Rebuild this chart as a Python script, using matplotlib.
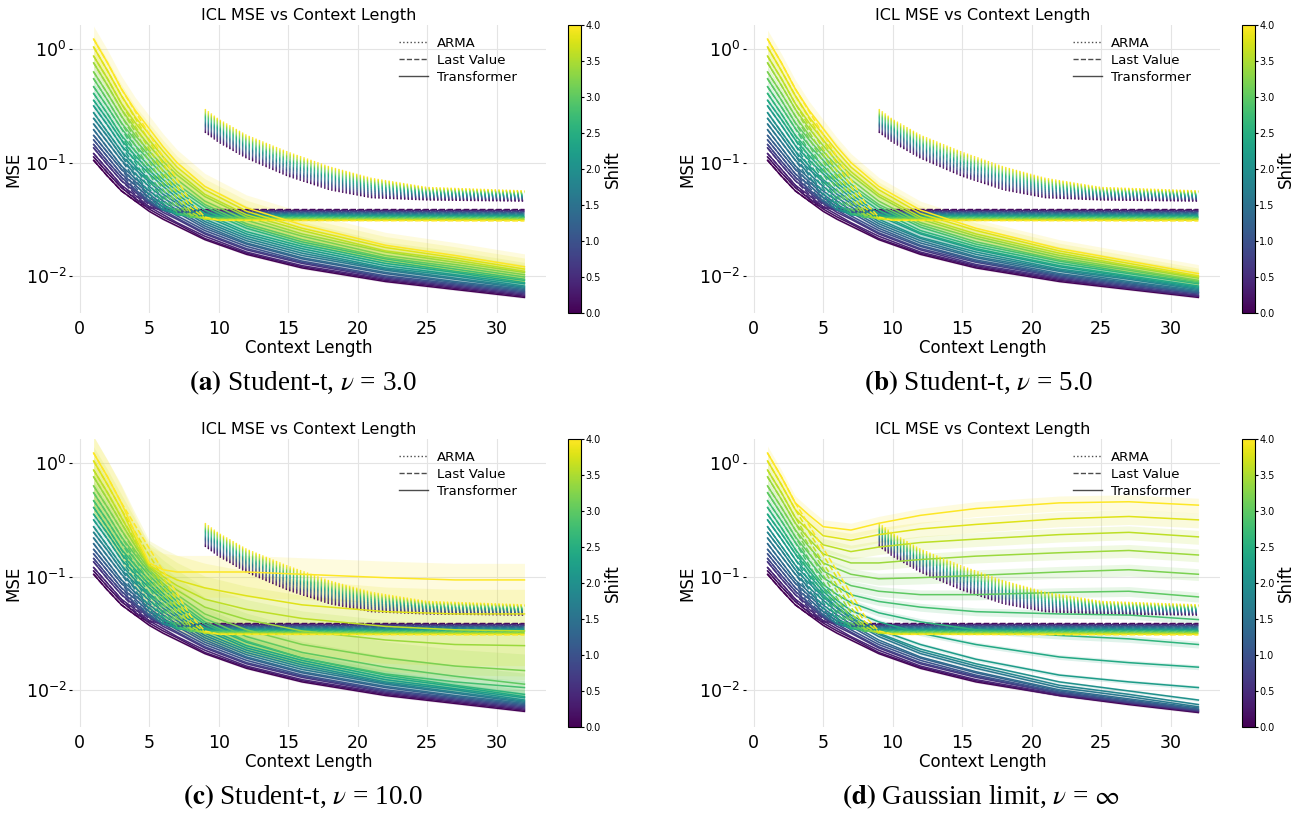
import numpy as np
import matplotlib
matplotlib.use("Agg")
import matplotlib.pyplot as plt
from matplotlib.lines import Line2D
from matplotlib.colors import Normalize
from matplotlib.cm import ScalarMappable

# shift values (colour scale) and context lengths at which curves were read
SHIFTS = [0.0, 0.2, 0.4, 0.6, 0.8, 1.0, 1.2, 1.4, 1.6, 1.8, 2.0,
          2.2, 2.4, 2.6, 2.8, 3.0, 3.2, 3.4, 3.6, 3.8, 4.0]
CTX_T = [1, 2, 3, 4, 5, 6, 7, 9, 12, 16, 22, 27, 32]
CTX_LV = [1, 2, 3, 4, 5, 6, 7, 8, 9, 10, 32]
CTX_ARMA = [9, 10, 12, 15, 18, 21, 25, 32]

# all curves stored as log10(MSE), one row per shift
LV_LOG = [
    [-0.98, -1.12, -1.25, -1.34, -1.40, -1.41, -1.415, -1.415, -1.415, -1.415, -1.415],
    [-0.95, -1.09, -1.22, -1.32, -1.39, -1.415, -1.42, -1.42, -1.42, -1.42, -1.42],
    [-0.92, -1.06, -1.20, -1.31, -1.39, -1.42, -1.425, -1.425, -1.425, -1.425, -1.425],
    [-0.87, -1.02, -1.16, -1.28, -1.37, -1.42, -1.43, -1.43, -1.43, -1.43, -1.43],
    [-0.84, -0.99, -1.13, -1.26, -1.36, -1.42, -1.435, -1.435, -1.435, -1.435, -1.435],
    [-0.80, -0.95, -1.10, -1.24, -1.35, -1.42, -1.44, -1.44, -1.44, -1.44, -1.44],
    [-0.76, -0.91, -1.06, -1.22, -1.34, -1.42, -1.445, -1.445, -1.445, -1.445, -1.445],
    [-0.71, -0.87, -1.03, -1.19, -1.33, -1.42, -1.45, -1.45, -1.45, -1.45, -1.45],
    [-0.66, -0.82, -0.98, -1.15, -1.31, -1.42, -1.455, -1.455, -1.455, -1.455, -1.455],
    [-0.61, -0.77, -0.94, -1.12, -1.29, -1.41, -1.46, -1.46, -1.46, -1.46, -1.46],
    [-0.56, -0.73, -0.90, -1.09, -1.27, -1.40, -1.46, -1.465, -1.465, -1.465, -1.465],
    [-0.50, -0.67, -0.85, -1.04, -1.23, -1.38, -1.46, -1.47, -1.47, -1.47, -1.47],
    [-0.45, -0.62, -0.80, -1.00, -1.19, -1.36, -1.46, -1.475, -1.475, -1.475, -1.475],
    [-0.39, -0.57, -0.76, -0.96, -1.15, -1.33, -1.45, -1.48, -1.48, -1.48, -1.48],
    [-0.33, -0.51, -0.70, -0.90, -1.10, -1.29, -1.44, -1.485, -1.485, -1.485, -1.485],
    [-0.26, -0.45, -0.65, -0.85, -1.05, -1.24, -1.41, -1.48, -1.49, -1.49, -1.49],
    [-0.20, -0.39, -0.59, -0.79, -0.99, -1.19, -1.37, -1.47, -1.495, -1.495, -1.495],
    [-0.12, -0.32, -0.53, -0.73, -0.93, -1.13, -1.32, -1.46, -1.50, -1.50, -1.50],
    [-0.06, -0.26, -0.48, -0.68, -0.88, -1.08, -1.27, -1.44, -1.50, -1.505, -1.505],
    [0.02, -0.19, -0.41, -0.61, -0.81, -1.01, -1.21, -1.40, -1.49, -1.51, -1.51],
    [0.09, -0.12, -0.35, -0.55, -0.75, -0.95, -1.15, -1.35, -1.48, -1.51, -1.515],
]

ARMA_LOG = [
    [-0.730, -0.820, -0.960, -1.120, -1.240, -1.310, -1.330, -1.340],
    [-0.720, -0.810, -0.950, -1.110, -1.230, -1.302, -1.325, -1.336],
    [-0.710, -0.800, -0.940, -1.099, -1.220, -1.293, -1.319, -1.331],
    [-0.700, -0.790, -0.930, -1.089, -1.210, -1.285, -1.314, -1.327],
    [-0.690, -0.780, -0.920, -1.078, -1.200, -1.276, -1.308, -1.322],
    [-0.680, -0.770, -0.910, -1.068, -1.190, -1.268, -1.303, -1.318],
    [-0.670, -0.760, -0.900, -1.057, -1.180, -1.259, -1.297, -1.313],
    [-0.660, -0.750, -0.890, -1.047, -1.170, -1.251, -1.292, -1.309],
    [-0.650, -0.740, -0.880, -1.036, -1.160, -1.242, -1.286, -1.304],
    [-0.640, -0.730, -0.870, -1.026, -1.150, -1.234, -1.281, -1.300],
    [-0.630, -0.720, -0.860, -1.015, -1.140, -1.225, -1.275, -1.295],
    [-0.620, -0.710, -0.850, -1.005, -1.130, -1.217, -1.270, -1.291],
    [-0.610, -0.700, -0.840, -0.994, -1.120, -1.208, -1.264, -1.286],
    [-0.600, -0.690, -0.830, -0.984, -1.110, -1.200, -1.259, -1.282],
    [-0.590, -0.680, -0.820, -0.973, -1.100, -1.191, -1.253, -1.277],
    [-0.580, -0.670, -0.810, -0.963, -1.090, -1.183, -1.248, -1.273],
    [-0.570, -0.660, -0.800, -0.952, -1.080, -1.174, -1.242, -1.268],
    [-0.560, -0.650, -0.790, -0.942, -1.070, -1.166, -1.237, -1.264],
    [-0.550, -0.640, -0.780, -0.931, -1.060, -1.157, -1.231, -1.259],
    [-0.540, -0.630, -0.770, -0.921, -1.050, -1.149, -1.226, -1.255],
    [-0.530, -0.620, -0.760, -0.910, -1.040, -1.140, -1.220, -1.250],
]

TF_A = [
    [-0.98, -1.12, -1.25, -1.34, -1.43, -1.50, -1.56, -1.68, -1.81, -1.93, -2.05, -2.12, -2.19],
    [-0.95, -1.09, -1.22, -1.32, -1.41, -1.48, -1.54, -1.67, -1.80, -1.92, -2.04, -2.11, -2.18],
    [-0.92, -1.06, -1.20, -1.29, -1.39, -1.46, -1.53, -1.65, -1.79, -1.91, -2.03, -2.10, -2.17],
    [-0.87, -1.02, -1.16, -1.26, -1.36, -1.44, -1.50, -1.63, -1.77, -1.89, -2.02, -2.09, -2.16],
    [-0.84, -0.99, -1.13, -1.24, -1.34, -1.42, -1.49, -1.62, -1.76, -1.88, -2.01, -2.08, -2.15],
    [-0.80, -0.95, -1.10, -1.20, -1.31, -1.39, -1.47, -1.60, -1.74, -1.87, -2.00, -2.07, -2.14],
    [-0.76, -0.91, -1.06, -1.17, -1.28, -1.37, -1.44, -1.58, -1.72, -1.85, -1.98, -2.06, -2.13],
    [-0.71, -0.87, -1.03, -1.14, -1.25, -1.34, -1.42, -1.56, -1.71, -1.84, -1.97, -2.05, -2.12],
    [-0.66, -0.82, -0.98, -1.10, -1.21, -1.31, -1.39, -1.54, -1.69, -1.82, -1.95, -2.03, -2.11],
    [-0.61, -0.77, -0.94, -1.06, -1.17, -1.28, -1.36, -1.52, -1.67, -1.80, -1.94, -2.02, -2.10],
    [-0.56, -0.73, -0.90, -1.03, -1.15, -1.25, -1.34, -1.50, -1.65, -1.78, -1.93, -2.00, -2.09],
    [-0.50, -0.67, -0.85, -0.98, -1.10, -1.21, -1.31, -1.47, -1.63, -1.76, -1.91, -1.99, -2.07],
    [-0.45, -0.62, -0.80, -0.94, -1.07, -1.18, -1.28, -1.45, -1.61, -1.74, -1.89, -1.97, -2.06],
    [-0.39, -0.57, -0.76, -0.90, -1.03, -1.15, -1.25, -1.42, -1.58, -1.72, -1.87, -1.96, -2.04],
    [-0.33, -0.51, -0.70, -0.85, -0.98, -1.11, -1.22, -1.39, -1.56, -1.70, -1.85, -1.94, -2.03],
    [-0.26, -0.45, -0.65, -0.80, -0.94, -1.07, -1.19, -1.37, -1.54, -1.68, -1.84, -1.92, -2.01],
    [-0.20, -0.39, -0.59, -0.76, -0.90, -1.03, -1.15, -1.34, -1.51, -1.65, -1.82, -1.90, -1.99],
    [-0.12, -0.32, -0.53, -0.70, -0.85, -0.99, -1.11, -1.30, -1.48, -1.63, -1.79, -1.88, -1.97],
    [-0.06, -0.26, -0.48, -0.65, -0.80, -0.95, -1.08, -1.28, -1.46, -1.60, -1.78, -1.86, -1.96],
    [0.02, -0.19, -0.41, -0.60, -0.75, -0.90, -1.04, -1.24, -1.43, -1.58, -1.75, -1.84, -1.94],
    [0.09, -0.12, -0.35, -0.54, -0.70, -0.86, -1.00, -1.21, -1.40, -1.55, -1.73, -1.82, -1.92],
]

TF_B = [
    [-0.98, -1.12, -1.25, -1.34, -1.43, -1.50, -1.56, -1.68, -1.81, -1.93, -2.05, -2.12, -2.19],
    [-0.95, -1.09, -1.22, -1.32, -1.41, -1.48, -1.54, -1.67, -1.80, -1.92, -2.04, -2.11, -2.18],
    [-0.92, -1.06, -1.20, -1.29, -1.39, -1.46, -1.53, -1.65, -1.79, -1.91, -2.03, -2.11, -2.18],
    [-0.87, -1.02, -1.16, -1.26, -1.36, -1.44, -1.50, -1.63, -1.77, -1.90, -2.02, -2.10, -2.17],
    [-0.84, -0.99, -1.13, -1.24, -1.34, -1.42, -1.49, -1.62, -1.76, -1.88, -2.01, -2.09, -2.16],
    [-0.80, -0.95, -1.10, -1.20, -1.31, -1.39, -1.47, -1.60, -1.74, -1.87, -2.00, -2.08, -2.15],
    [-0.76, -0.91, -1.06, -1.17, -1.28, -1.37, -1.44, -1.58, -1.73, -1.86, -1.99, -2.07, -2.15],
    [-0.71, -0.87, -1.03, -1.14, -1.25, -1.34, -1.42, -1.56, -1.71, -1.84, -1.98, -2.06, -2.14],
    [-0.66, -0.82, -0.98, -1.10, -1.21, -1.31, -1.39, -1.54, -1.69, -1.83, -1.96, -2.05, -2.13],
    [-0.61, -0.77, -0.94, -1.06, -1.17, -1.28, -1.36, -1.52, -1.67, -1.81, -1.95, -2.03, -2.12],
    [-0.56, -0.73, -0.90, -1.03, -1.15, -1.25, -1.34, -1.50, -1.66, -1.79, -1.94, -2.02, -2.11],
    [-0.50, -0.67, -0.85, -0.98, -1.10, -1.21, -1.31, -1.47, -1.63, -1.77, -1.92, -2.01, -2.10],
    [-0.45, -0.62, -0.80, -0.94, -1.07, -1.18, -1.28, -1.45, -1.62, -1.76, -1.91, -2.00, -2.09],
    [-0.39, -0.57, -0.76, -0.90, -1.03, -1.15, -1.25, -1.42, -1.60, -1.74, -1.89, -1.98, -2.07],
    [-0.33, -0.51, -0.70, -0.85, -0.98, -1.11, -1.22, -1.39, -1.57, -1.72, -1.87, -1.97, -2.06],
    [-0.26, -0.45, -0.65, -0.80, -0.94, -1.07, -1.19, -1.37, -1.55, -1.70, -1.86, -1.95, -2.05],
    [-0.20, -0.39, -0.59, -0.76, -0.90, -1.03, -1.15, -1.34, -1.53, -1.67, -1.84, -1.94, -2.04],
    [-0.12, -0.32, -0.53, -0.70, -0.85, -0.99, -1.11, -1.30, -1.50, -1.65, -1.82, -1.92, -2.02],
    [-0.06, -0.26, -0.48, -0.65, -0.80, -0.95, -1.08, -1.28, -1.48, -1.63, -1.80, -1.91, -2.01],
    [0.02, -0.19, -0.41, -0.60, -0.75, -0.90, -1.04, -1.24, -1.45, -1.60, -1.78, -1.89, -2.00],
    [0.09, -0.12, -0.35, -0.54, -0.70, -0.86, -1.00, -1.21, -1.42, -1.58, -1.76, -1.87, -1.98],
]

TF_C = [
    [-0.98, -1.12, -1.25, -1.34, -1.43, -1.50, -1.56, -1.68, -1.81, -1.93, -2.05, -2.12, -2.19],
    [-0.95, -1.09, -1.22, -1.32, -1.41, -1.48, -1.54, -1.67, -1.80, -1.92, -2.04, -2.11, -2.18],
    [-0.92, -1.06, -1.20, -1.29, -1.39, -1.46, -1.53, -1.65, -1.79, -1.91, -2.03, -2.10, -2.17],
    [-0.87, -1.02, -1.16, -1.26, -1.36, -1.44, -1.50, -1.63, -1.77, -1.89, -2.02, -2.09, -2.16],
    [-0.84, -0.99, -1.13, -1.24, -1.34, -1.42, -1.49, -1.62, -1.76, -1.88, -2.01, -2.08, -2.15],
    [-0.80, -0.95, -1.10, -1.20, -1.31, -1.39, -1.47, -1.60, -1.74, -1.87, -2.00, -2.07, -2.14],
    [-0.76, -0.91, -1.06, -1.17, -1.28, -1.37, -1.44, -1.58, -1.72, -1.85, -1.98, -2.06, -2.13],
    [-0.71, -0.87, -1.03, -1.14, -1.25, -1.34, -1.42, -1.56, -1.71, -1.84, -1.97, -2.05, -2.12],
    [-0.66, -0.82, -0.98, -1.10, -1.21, -1.31, -1.39, -1.54, -1.69, -1.82, -1.95, -2.03, -2.11],
    [-0.61, -0.77, -0.94, -1.06, -1.17, -1.28, -1.36, -1.52, -1.67, -1.80, -1.94, -2.02, -2.10],
    [-0.56, -0.73, -0.90, -1.03, -1.15, -1.25, -1.34, -1.50, -1.65, -1.78, -1.93, -2.00, -2.09],
    [-0.50, -0.67, -0.85, -0.98, -1.10, -1.21, -1.31, -1.47, -1.63, -1.76, -1.91, -1.99, -2.07],
    [-0.45, -0.62, -0.80, -0.94, -1.07, -1.18, -1.28, -1.45, -1.61, -1.74, -1.89, -1.97, -2.06],
    [-0.39, -0.57, -0.76, -0.90, -1.03, -1.15, -1.25, -1.42, -1.58, -1.72, -1.87, -1.96, -2.04],
    [-0.33, -0.51, -0.70, -0.85, -0.99, -1.11, -1.22, -1.40, -1.57, -1.72, -1.86, -1.93, -1.98],
    [-0.26, -0.45, -0.65, -0.81, -0.96, -1.08, -1.19, -1.37, -1.53, -1.67, -1.80, -1.88, -1.95],
    [-0.20, -0.39, -0.59, -0.77, -0.94, -1.06, -1.16, -1.33, -1.47, -1.60, -1.72, -1.79, -1.83],
    [-0.12, -0.32, -0.53, -0.73, -0.92, -1.03, -1.12, -1.27, -1.38, -1.48, -1.56, -1.60, -1.61],
    [-0.06, -0.26, -0.48, -0.70, -0.91, -1.00, -1.08, -1.20, -1.29, -1.37, -1.44, -1.47, -1.48],
    [0.02, -0.19, -0.41, -0.66, -0.90, -0.97, -1.03, -1.10, -1.17, -1.25, -1.31, -1.33, -1.33],
    [0.09, -0.12, -0.35, -0.62, -0.88, -0.94, -0.96, -0.96, -0.96, -0.98, -1.01, -1.03, -1.03],
]

TF_D = [
    [-0.98, -1.12, -1.25, -1.34, -1.43, -1.50, -1.56, -1.68, -1.81, -1.93, -2.05, -2.13, -2.20],
    [-0.95, -1.09, -1.22, -1.32, -1.41, -1.48, -1.54, -1.67, -1.80, -1.92, -2.05, -2.12, -2.195],
    [-0.92, -1.06, -1.20, -1.29, -1.39, -1.46, -1.53, -1.65, -1.79, -1.91, -2.04, -2.12, -2.19],
    [-0.87, -1.02, -1.16, -1.26, -1.36, -1.44, -1.50, -1.63, -1.77, -1.89, -2.03, -2.11, -2.185],
    [-0.84, -0.99, -1.13, -1.24, -1.34, -1.42, -1.49, -1.62, -1.76, -1.88, -2.03, -2.11, -2.18],
    [-0.80, -0.95, -1.10, -1.20, -1.31, -1.39, -1.47, -1.60, -1.74, -1.87, -2.02, -2.10, -2.175],
    [-0.76, -0.91, -1.06, -1.17, -1.28, -1.37, -1.44, -1.58, -1.72, -1.85, -2.01, -2.09, -2.17],
    [-0.71, -0.87, -1.03, -1.14, -1.25, -1.34, -1.42, -1.56, -1.71, -1.84, -2.00, -2.08, -2.16],
    [-0.66, -0.82, -0.98, -1.10, -1.21, -1.31, -1.39, -1.53, -1.68, -1.81, -1.98, -2.06, -2.15],
    [-0.61, -0.77, -0.94, -1.06, -1.18, -1.28, -1.37, -1.51, -1.66, -1.79, -1.96, -2.04, -2.13],
    [-0.56, -0.73, -0.90, -1.03, -1.16, -1.27, -1.36, -1.50, -1.64, -1.77, -1.93, -2.01, -2.09],
    [-0.50, -0.67, -0.85, -0.99, -1.13, -1.24, -1.34, -1.47, -1.60, -1.73, -1.87, -1.93, -1.98],
    [-0.45, -0.62, -0.80, -0.95, -1.10, -1.21, -1.30, -1.40, -1.50, -1.60, -1.71, -1.76, -1.80],
    [-0.39, -0.57, -0.76, -0.92, -1.07, -1.16, -1.23, -1.32, -1.40, -1.47, -1.52, -1.55, -1.60],
    [-0.33, -0.51, -0.70, -0.86, -1.01, -1.09, -1.16, -1.22, -1.27, -1.31, -1.33, -1.34, -1.38],
    [-0.26, -0.45, -0.65, -0.80, -0.95, -1.02, -1.08, -1.13, -1.16, -1.16, -1.14, -1.13, -1.18],
    [-0.20, -0.39, -0.59, -0.74, -0.88, -0.93, -0.98, -1.02, -1.01, -0.99, -0.96, -0.94, -0.98],
    [-0.12, -0.32, -0.53, -0.67, -0.80, -0.84, -0.88, -0.88, -0.85, -0.82, -0.79, -0.77, -0.81],
    [-0.06, -0.26, -0.48, -0.60, -0.72, -0.75, -0.78, -0.74, -0.70, -0.67, -0.63, -0.61, -0.65],
    [0.02, -0.19, -0.41, -0.53, -0.64, -0.66, -0.68, -0.63, -0.58, -0.54, -0.49, -0.47, -0.50],
    [0.09, -0.12, -0.35, -0.46, -0.56, -0.575, -0.59, -0.53, -0.46, -0.40, -0.35, -0.34, -0.37],
]

# relative std of the transformer runs (shaded band), per shift
BAND_A = [0.02, 0.02, 0.02, 0.03, 0.03, 0.03, 0.04, 0.04, 0.05, 0.05, 0.06,
          0.07, 0.08, 0.09, 0.10, 0.12, 0.14, 0.17, 0.20, 0.25, 0.30]
BAND_B = [0.02, 0.02, 0.02, 0.02, 0.03, 0.03, 0.03, 0.03, 0.04, 0.04, 0.05,
          0.05, 0.06, 0.07, 0.08, 0.09, 0.10, 0.12, 0.14, 0.17, 0.20]
BAND_C = [0.02, 0.02, 0.02, 0.03, 0.03, 0.03, 0.04, 0.04, 0.05, 0.05, 0.06,
          0.07, 0.08, 0.10, 0.15, 0.25, 0.40, 0.50, 0.60, 0.65, 0.40]
BAND_D = [0.02, 0.02, 0.02, 0.02, 0.02, 0.02, 0.02, 0.02, 0.03, 0.03, 0.03,
          0.04, 0.05, 0.07, 0.08, 0.10, 0.12, 0.13, 0.14, 0.15, 0.15]

CAPTIONS = [r"$\mathbf{(a)}$ Student-t, $\nu$ = 3.0",
            r"$\mathbf{(b)}$ Student-t, $\nu$ = 5.0",
            r"$\mathbf{(c)}$ Student-t, $\nu$ = 10.0",
            r"$\mathbf{(d)}$ Gaussian limit, $\nu$ = $\infty$"]
CBAR_TICKS = [0.0, 0.5, 1.0, 1.5, 2.0, 2.5, 3.0, 3.5, 4.0]

norm = Normalize(vmin=0.0, vmax=4.0)
cmap = plt.get_cmap("viridis")


def draw_panel(ax, cax, tf_log, band):
    for i, s in enumerate(SHIFTS):
        c = cmap(norm(s))
        tf = 10 ** np.array(tf_log[i])
        r = band[i]
        ax.fill_between(CTX_T, tf * (1 - r), tf * (1 + r), color=c, alpha=0.15, lw=0)
        ax.plot(CTX_ARMA, 10 ** np.array(ARMA_LOG[i]), color=c, lw=1.0, ls=":")
        ax.plot(CTX_LV, 10 ** np.array(LV_LOG[i]), color=c, lw=1.1, ls="--")
        ax.plot(CTX_T, tf, color=c, lw=1.1)

    ax.set_yscale("log")
    ax.set_xlim(-0.55, 33.55)
    ax.set_ylim(0.0047, 1.63)
    ax.set_xticks([0, 5, 10, 15, 20, 25, 30])
    ax.grid(True, color="#e4e4e4", lw=0.8)
    ax.set_axisbelow(True)
    for sp in ax.spines.values():
        sp.set_visible(False)
    ax.tick_params(axis="x", length=0, labelsize=12.5, pad=5)
    ax.tick_params(axis="y", which="major", length=2, labelsize=12.5, pad=2)
    ax.tick_params(axis="y", which="minor", length=0)
    ax.set_title("ICL MSE vs Context Length", fontsize=11.5, pad=4)
    ax.set_xlabel("Context Length", fontsize=12, labelpad=1)
    ax.set_ylabel("MSE", fontsize=12, labelpad=2)

    handles = [Line2D([], [], color="k", alpha=0.7, lw=1.0, ls=":"),
               Line2D([], [], color="k", alpha=0.7, lw=1.0, ls="--"),
               Line2D([], [], color="k", alpha=0.7, lw=1.0, ls="-")]
    ax.legend(handles, ["ARMA", "Last Value", "Transformer"], loc="upper left",
              bbox_to_anchor=(0.665, 1.0), frameon=False, fontsize=9.5,
              labelspacing=0.3, handlelength=2.2, handletextpad=0.7)

    cb = plt.colorbar(ScalarMappable(norm=norm, cmap=cmap), cax=cax)
    cb.set_ticks(CBAR_TICKS)
    cb.ax.set_yticklabels([f"{t:.1f}" for t in CBAR_TICKS])
    cb.ax.tick_params(labelsize=7, length=2, pad=1)
    cb.outline.set_linewidth(0.8)
    cb.set_label("Shift", fontsize=12, labelpad=2)


fig = plt.figure(figsize=(12.96, 8.13), dpi=100)
W, H = 0.3657, 0.354
lefts = [0.0556, 0.5756, 0.0556, 0.5756]
bottoms = [0.615, 0.615, 0.1058, 0.1058]
panels = [(TF_A, BAND_A), (TF_B, BAND_B), (TF_C, BAND_C), (TF_D, BAND_D)]
cap_x = [0.234, 0.755, 0.234, 0.757]
cap_y = [0.529, 0.529, 0.0197, 0.0197]

for k in range(4):
    ax = fig.add_axes([lefts[k], bottoms[k], W, H])
    cax = fig.add_axes([lefts[k] + 0.3827, bottoms[k], 0.0100, H])
    draw_panel(ax, cax, panels[k][0], panels[k][1])
    fig.text(cap_x[k], cap_y[k], CAPTIONS[k], ha="center", va="center",
             fontsize=19.5, family="Liberation Serif", math_fontfamily="stix")

fig.savefig("out.png", dpi=100)
